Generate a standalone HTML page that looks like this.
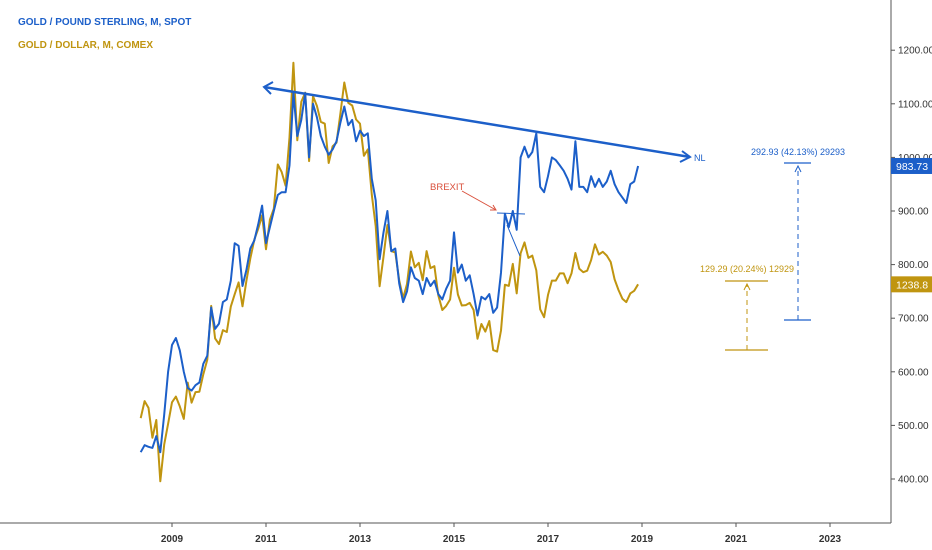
<!DOCTYPE html>
<html><head><meta charset="utf-8"><style>
body{margin:0;background:#fff;}
svg{display:block;font-family:"Liberation Sans",sans-serif;}
</style></head><body>
<svg id="chart" width="932" height="550">
<text x="18" y="25" font-size="10" font-weight="bold" fill="#1c5fc9">GOLD / POUND STERLING, M, SPOT</text>
<text x="18" y="48" font-size="10" font-weight="bold" fill="#c09510">GOLD / DOLLAR, M, COMEX</text>
<line x1="891" y1="0" x2="891" y2="523" stroke="#555" stroke-width="1"/>
<line x1="0" y1="523" x2="891" y2="523" stroke="#555" stroke-width="1"/>
<g id="yaxis"></g><g id="xaxis"></g>
<g id="series"></g>
<g>
<line x1="264" y1="87" x2="690" y2="157" stroke="#1c5fc9" stroke-width="2.5"/>
<polyline points="273,82 264,87 271,94" fill="none" stroke="#1c5fc9" stroke-width="2"/>
<polyline points="682,151 690,157 680,162" fill="none" stroke="#1c5fc9" stroke-width="2"/>
<text x="694" y="161" font-size="9" fill="#1c5fc9">NL</text>
</g>
<g>
<text x="430" y="190" font-size="9.5" fill="#d9503c">BREXIT</text>
<line x1="462" y1="191" x2="496" y2="210" stroke="#d9503c" stroke-width="1"/>
<polyline points="490,210 496,210 493,205" fill="none" stroke="#d9503c" stroke-width="1"/>
<line x1="497" y1="213" x2="525" y2="214" stroke="#1c5fc9" stroke-width="1"/>
<line x1="507" y1="225" x2="520" y2="256" stroke="#1c5fc9" stroke-width="1"/>
</g>
<g>
<line x1="725" y1="281" x2="768" y2="281" stroke="#c09510" stroke-width="1.3"/>
<line x1="725" y1="350" x2="768" y2="350" stroke="#c09510" stroke-width="1.3"/>
<line x1="747" y1="350" x2="747" y2="284" stroke="#c09510" stroke-width="1" stroke-dasharray="5,4"/>
<polyline points="744,290 747,284 750,290" fill="none" stroke="#c09510" stroke-width="1"/>
<text x="747" y="272" font-size="9" fill="#c09510" text-anchor="middle">129.29 (20.24%) 12929</text>
</g>
<g>
<line x1="784" y1="163" x2="811" y2="163" stroke="#1c5fc9" stroke-width="1.3"/>
<line x1="784" y1="320" x2="811" y2="320" stroke="#1c5fc9" stroke-width="1.3"/>
<line x1="798" y1="320" x2="798" y2="166" stroke="#1c5fc9" stroke-width="1" stroke-dasharray="5,4"/>
<polyline points="795,172 798,166 801,172" fill="none" stroke="#1c5fc9" stroke-width="1"/>
<text x="798" y="155" font-size="9" fill="#1c5fc9" text-anchor="middle">292.93 (42.13%) 29293</text>
</g>
<g id="badges"></g>
</svg>
<script>
const startYear = 2008, startMonth = 4; // May 2008
const gbpValues = [450,463,460,458,480,450,520,600,
650,663,640,600,570,565,575,580,615,630,720,680,
690,730,735,770,840,835,760,790,830,845,875,910,
840,870,900,930,935,935,985,1120,1040,1070,1120,1000,
1100,1075,1040,1020,1005,1015,1030,1065,1095,1060,1070,1030,
1050,1040,1045,960,920,810,860,900,825,830,765,730,
750,795,775,770,745,775,760,770,745,735,755,770,
860,785,800,770,780,745,705,740,735,745,710,720,
785,895,870,900,865,1000,1020,1000,1010,1045,945,935,
965,1000,995,985,975,960,940,1030,945,945,935,965,
945,960,945,955,975,950,935,925,915,950,955,984];
const usdValues = [885,930,912,833,880,718,815,870,
927,942,916,883,979,926,954,955,1001,1040,1182,1096,
1081,1118,1113,1180,1213,1244,1181,1248,1307,1357,1386,1421,
1332,1410,1439,1556,1536,1500,1628,1825,1620,1722,1746,1565,
1737,1711,1669,1664,1560,1604,1614,1691,1773,1719,1712,1675,
1664,1579,1596,1476,1393,1234,1312,1396,1327,1323,1250,1202,
1240,1326,1284,1296,1250,1327,1282,1287,1210,1171,1182,1199,
1283,1212,1183,1184,1190,1171,1095,1134,1114,1142,1065,1061,
1117,1238,1235,1293,1215,1321,1350,1309,1315,1276,1173,1152,
1211,1249,1249,1268,1268,1242,1268,1322,1280,1271,1275,1303,
1345,1318,1325,1315,1298,1252,1224,1201,1192,1215,1222,1239];
const yTicks = [400,500,600,700,800,900,1000,1100,1200];
const xTicks = [2009,2011,2013,2015,2017,2019,2021,2023];
const gbpLast = "983.73", usdLast = "1238.8";

const NS="http://www.w3.org/2000/svg";
function xs(t){return 172+(t-2009)*47;}
function yGbp(v){return 479-(v-400)*0.536;}
function yUsd(v){return 352-(v-1060)*0.378;}
function tOf(i){return startYear+(startMonth+i)/12;}
function mk(tag,attrs,parent){const e=document.createElementNS(NS,tag);for(const k in attrs)e.setAttribute(k,attrs[k]);parent.appendChild(e);return e;}

const ya=document.getElementById('yaxis');
yTicks.forEach(v=>{
  const y=yGbp(v);
  const tk=mk('line',{x1:891,y1:y,x2:895,y2:y,stroke:'#555'},ya);
  
  
  const t=mk('text',{x:898,y:y+3.5,'font-size':10,fill:'#333'},ya);
  t.textContent=v.toFixed(2);
  
  
});
const xa=document.getElementById('xaxis');
xTicks.forEach(yr=>{
  const x=xs(yr);
  const tk=mk('line',{x1:x,y1:523,x2:x,y2:527,stroke:'#555'},xa);
  
  
  const t=mk('text',{x:x,y:542,'font-size':10,fill:'#333','text-anchor':'middle','font-weight':'bold'},xa);
  t.textContent=yr;
  
  
});
const sg=document.getElementById('series');
const usdPts=usdValues.map((v,i)=>xs(tOf(i)).toFixed(1)+','+yUsd(v).toFixed(1)).join(' ');
const usdLine=mk('polyline',{points:usdPts,fill:'none',stroke:'#c09510','stroke-width':2,'stroke-linejoin':'round'},sg);


const gbpPts=gbpValues.map((v,i)=>xs(tOf(i)).toFixed(1)+','+yGbp(v).toFixed(1)).join(' ');
const gbpLine=mk('polyline',{points:gbpPts,fill:'none',stroke:'#1c5fc9','stroke-width':2,'stroke-linejoin':'round'},sg);



const bg=document.getElementById('badges');
function badge(y,label,color,name){
  const r=mk('rect',{x:891,y:y-8,width:41,height:16,fill:color},bg);
  
  
  const t=mk('text',{x:896,y:y+4,'font-size':10.5,fill:'#fff'},bg);
  t.textContent=label;
  
  
}
badge(yGbp(gbpValues[gbpValues.length-1]),gbpLast,'#1c5fc9','gbp-price-badge');
badge(yUsd(usdValues[usdValues.length-1]),usdLast,'#c09510','usd-price-badge');
</script>
</body></html>
